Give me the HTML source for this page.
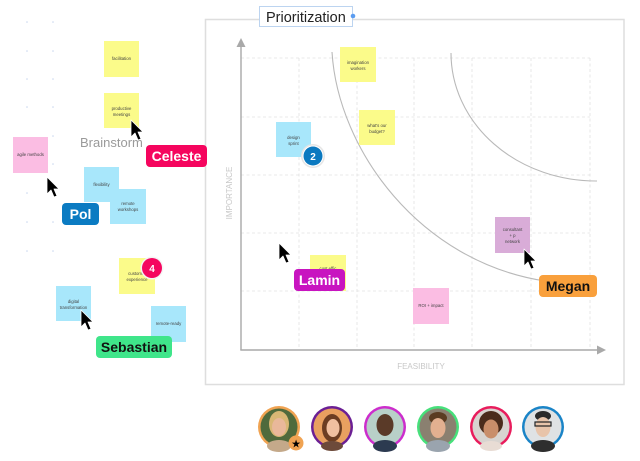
<!DOCTYPE html>
<html><head><meta charset="utf-8"><style>
html,body{margin:0;padding:0;background:#fff;}
svg{display:block;}
</style></head><body>
<svg width="640" height="461" viewBox="0 0 640 461" xmlns="http://www.w3.org/2000/svg" font-family="Liberation Sans, sans-serif">
<defs>
<g id="cur"><path d="M0,0 L0,17 L4,13 L7,20 L10,19 L7,12 L12,12 Z" fill="#000" stroke="#fff" stroke-width="0.8" stroke-linejoin="round"/></g>
</defs>
<rect width="640" height="461" fill="#fff"/>
<!-- left dot grid -->
<g fill="#c9d6ee">
<circle cx="27" cy="22" r="0.8"/><circle cx="53" cy="22" r="0.8"/>
<circle cx="27" cy="51" r="0.8"/><circle cx="53" cy="51" r="0.8"/>
<circle cx="27" cy="79" r="0.8"/><circle cx="53" cy="79" r="0.8"/>
<circle cx="27" cy="107" r="0.8"/><circle cx="53" cy="107" r="0.8"/>
<circle cx="53" cy="136" r="0.8"/><circle cx="53" cy="164" r="0.8"/>
<circle cx="27" cy="193" r="0.8"/><circle cx="53" cy="193" r="0.8"/>
<circle cx="27" cy="222" r="0.8"/><circle cx="53" cy="222" r="0.8"/>
<circle cx="27" cy="251" r="0.8"/><circle cx="53" cy="251" r="0.8"/>
</g>
<!-- frame -->
<rect x="205.5" y="19.5" width="418.5" height="365" fill="#fff" stroke="#dedede" stroke-width="1.5"/>
<!-- grid -->
<g stroke="#e2e2e2" stroke-width="0.8" stroke-dasharray="3,2.5" fill="none">
<line x1="241" y1="58" x2="590" y2="58"/>
<line x1="241" y1="117" x2="590" y2="117"/>
<line x1="241" y1="175" x2="590" y2="175"/>
<line x1="241" y1="233" x2="590" y2="233"/>
<line x1="241" y1="291" x2="590" y2="291"/>
<line x1="299" y1="58" x2="299" y2="349"/>
<line x1="357" y1="58" x2="357" y2="349"/>
<line x1="414" y1="58" x2="414" y2="349"/>
<line x1="472" y1="58" x2="472" y2="349"/>
<line x1="531" y1="58" x2="531" y2="349"/>
<line x1="590" y1="58" x2="590" y2="349"/>
</g>
<!-- axes -->
<g stroke="#a9a9a9" stroke-width="1.4" fill="none">
<line x1="241" y1="44" x2="241" y2="350"/>
<line x1="240.3" y1="350" x2="598" y2="350"/>
</g>
<path d="M236.5,47 L241,38 L245.5,47 Z" fill="#a9a9a9"/>
<path d="M597,345.5 L606,350 L597,354.5 Z" fill="#a9a9a9"/>
<text x="232" y="193" font-size="8" fill="#c8c8c8" text-anchor="middle" transform="rotate(-90 232 193)">IMPORTANCE</text>
<text x="421" y="369" font-size="8" fill="#c8c8c8" text-anchor="middle">FEASIBILITY</text>
<!-- curves -->
<g stroke="#b9b9b9" stroke-width="1.1" fill="none">
<path d="M332,52 C338,150 420,262 545,281"/>
<path d="M451,53 A145,128 0 0 0 597,181"/>
</g>
<!-- title -->
<rect x="259.5" y="6.5" width="93" height="20" fill="#fff" stroke="#bcd4f0" stroke-width="1"/>
<text x="266" y="22" font-size="14.5" fill="#222">Prioritization</text>
<circle cx="353" cy="16" r="2.3" fill="#5b9cf0"/>
<!-- stickies -->
<g font-size="4.3" fill="#444" text-anchor="middle">
<rect x="104" y="41" width="35" height="36" fill="#fbfb8a"/><text x="121.5" y="60">facilitation</text>
<rect x="104" y="93" width="35" height="35" fill="#fbfb8a"/><text x="121.5" y="110">productive</text><text x="121.5" y="116">meetings</text>
<rect x="13" y="137" width="35" height="36" fill="#fbbde3"/><text x="30.5" y="156">agile methods</text>
<rect x="84" y="167" width="35" height="35" fill="#a8e7fb"/><text x="101.5" y="186">flexibility</text>
<rect x="110" y="189" width="36" height="35" fill="#a8e7fb"/><text x="128" y="205">remote</text><text x="128" y="211">workshops</text>
<rect x="119" y="258" width="36" height="36" fill="#fbfb8a"/><text x="137" y="275">customer</text><text x="137" y="281">experience</text>
<rect x="56" y="286" width="35" height="35" fill="#a8e7fb"/><text x="73.5" y="303">digital</text><text x="73.5" y="309">transformation</text>
<rect x="151" y="306" width="35" height="36" fill="#a8e7fb"/><text x="168.5" y="325">remote-ready</text>
<rect x="340" y="47" width="36" height="35" fill="#fbfb8a"/><text x="358" y="64">imagination</text><text x="358" y="70">workers</text>
<rect x="359" y="110" width="36" height="35" fill="#fbfb8a"/><text x="377" y="127">what's our</text><text x="377" y="133">budget?</text>
<rect x="276" y="122" width="35" height="35" fill="#a8e7fb"/><text x="293.5" y="139">design</text><text x="293.5" y="145">sprint</text>
<rect x="310" y="255" width="36" height="36" fill="#fbfb8a"/><text x="328" y="270">cost effic</text>
<rect x="495" y="217" width="35" height="36" fill="#d9acd8"/><text x="512.5" y="231">consultant</text><text x="512.5" y="237">+ p</text><text x="512.5" y="243">network</text>
<rect x="413" y="288" width="36" height="36" fill="#fbbde3"/><text x="431" y="307">ROI + impact</text>
</g>
<text x="80" y="147" font-size="13" fill="#9a9a9a">Brainstorm</text>
<!-- badges -->
<circle cx="152" cy="268" r="11.5" fill="#f4f4f4"/>
<circle cx="152" cy="268" r="10" fill="#f5065f"/>
<text x="152" y="272" font-size="10" font-weight="bold" fill="#fff" text-anchor="middle">4</text>
<circle cx="313" cy="156" r="12" fill="#e6e6e6"/>
<circle cx="313" cy="156" r="10.5" fill="#fff"/>
<circle cx="313" cy="156" r="9.5" fill="#0b79c0"/>
<text x="313" y="160" font-size="10" font-weight="bold" fill="#fff" text-anchor="middle">2</text>
<!-- cursors -->
<use href="#cur" x="131" y="120"/>
<use href="#cur" x="47" y="177"/>
<use href="#cur" x="81" y="310"/>
<use href="#cur" x="279" y="243"/>
<use href="#cur" x="524" y="249"/>
<!-- name labels -->
<g font-size="14" font-weight="bold" text-anchor="middle">
<rect x="146" y="145" width="61" height="22" rx="4" fill="#f5055e"/><text x="176.5" y="161" fill="#fff">Celeste</text>
<rect x="62" y="203" width="37" height="22" rx="4" fill="#0b7bc2"/><text x="80.5" y="219" fill="#fff">Pol</text>
<rect x="96" y="336" width="76" height="22" rx="4" fill="#3fe58a"/><text x="134" y="352" fill="#111">Sebastian</text>
<rect x="294" y="269" width="51" height="22" rx="4" fill="#c814c0"/><text x="319.5" y="285" fill="#fff">Lamin</text>
<rect x="539" y="275" width="58" height="22" rx="4" fill="#f9a03c"/><text x="568" y="291" fill="#111">Megan</text>
</g>
<!-- avatars -->
<g>
<circle cx="279" cy="427" r="21" fill="#f0a352"/><circle cx="279" cy="427" r="18.5" fill="#4f6a3c"/>
<ellipse cx="279" cy="424" rx="10" ry="13" fill="#d9b775"/><ellipse cx="279" cy="427" rx="7" ry="9" fill="#e9b89a"/><ellipse cx="279" cy="446" rx="12" ry="6" fill="#c4a98a"/>
<circle cx="296" cy="443" r="7.5" fill="#f0a352"/><text x="296" y="447.5" font-size="11" text-anchor="middle" fill="#000">★</text>
<circle cx="332" cy="427" r="21" fill="#6b1f94"/><circle cx="332" cy="427" r="18.5" fill="#e8a060"/>
<ellipse cx="332" cy="428" rx="10" ry="14" fill="#6b3d22"/><ellipse cx="333" cy="428" rx="6.5" ry="9" fill="#f0c0a0"/><ellipse cx="332" cy="446" rx="11" ry="5" fill="#6d4a3a"/>
<circle cx="385" cy="427" r="21" fill="#cc2dcc"/><circle cx="385" cy="427" r="18.5" fill="#b8d0c8"/>
<ellipse cx="385" cy="425" rx="8.5" ry="11" fill="#5a3a28"/><ellipse cx="385" cy="446" rx="12" ry="6" fill="#2c3a50"/>
<circle cx="438" cy="427" r="21" fill="#47e07b"/><circle cx="438" cy="427" r="18.5" fill="#8a8070"/>
<ellipse cx="438" cy="418" rx="9" ry="6" fill="#5a3c22"/><ellipse cx="438" cy="428" rx="7.5" ry="10" fill="#e2b090"/><ellipse cx="438" cy="446" rx="12" ry="6" fill="#9aa4ae"/>
<circle cx="491" cy="427" r="21" fill="#e81c5c"/><circle cx="491" cy="427" r="18.5" fill="#d8d4d0"/>
<ellipse cx="491" cy="423" rx="12" ry="12" fill="#4a2c1c"/><ellipse cx="491" cy="429" rx="7.5" ry="9.5" fill="#c98e6a"/><ellipse cx="491" cy="446" rx="11" ry="5" fill="#e8dcd4"/>
<circle cx="543" cy="427" r="21" fill="#1a84c7"/><circle cx="543" cy="427" r="18.5" fill="#dfe2e4"/>
<ellipse cx="543" cy="416" rx="8" ry="5" fill="#2a2a2a"/><ellipse cx="543" cy="427" rx="7.5" ry="10" fill="#e8c4aa"/><rect x="535" y="422" width="16" height="4" fill="none" stroke="#222" stroke-width="1.2"/><ellipse cx="543" cy="446" rx="12" ry="6" fill="#2e2e2e"/>
</g>
</svg>
</body></html>
